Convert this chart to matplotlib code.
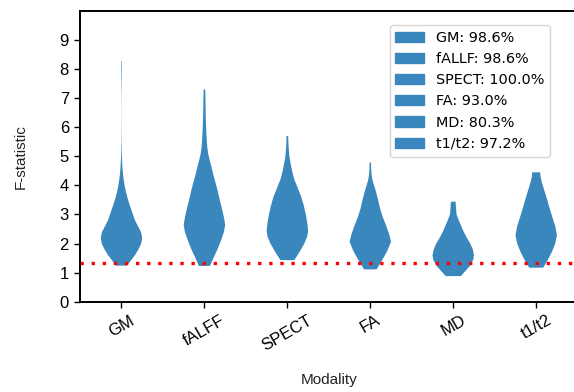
import numpy as np
import matplotlib.pyplot as plt
import matplotlib.patches as mpatches

# modalities on the x axis and the share of significant tests per modality
modalities = ["GM", "fALFF", "SPECT", "FA", "MD", "t1/t2"]
legend_names = ["GM", "fALLF", "SPECT", "FA", "MD", "t1/t2"]
pct_significant = [98.6, 98.6, 100.0, 93.0, 80.3, 97.2]

# F-statistic threshold
f_crit = 1.32

# density profiles: F values and relative density at each value
gm_f = [1.24, 1.4, 1.6, 1.8, 2.0, 2.2, 2.4, 2.6, 2.8, 3.0, 3.2, 3.4, 3.6, 3.8, 4.0,
        4.3, 4.6, 5.0, 5.5, 6.0, 6.5, 7.0, 7.5, 8.0, 8.28]
gm_d = [5.5, 9, 13.5, 17, 19.8, 20.8, 19.5, 16.5, 13.5, 11.5, 9.5, 7.5, 5.8, 4.3, 3.1,
        1.8, 1.0, 0.4, 0.15, 0.08, 0.06, 0.08, 0.2, 0.3, 0.3]

falff_f = [1.23, 1.5, 1.8, 2.1, 2.4, 2.64, 2.9, 3.2, 3.5, 3.8, 4.07, 4.35, 4.64, 4.9,
           5.1, 5.3, 5.56, 6.0, 6.36, 7.05, 7.3]
falff_d = [5.5, 9, 13, 16.5, 19.5, 20.7, 19.5, 17.5, 15.3, 13.3, 11.3, 9, 7, 5,
           3.7, 2.9, 2.3, 1.7, 1.3, 1.0, 0.8]

spect_f = [1.43, 1.7, 2.0, 2.25, 2.45, 2.7, 3.0, 3.3, 3.6, 3.9, 4.2, 4.5, 4.8, 5.0,
           5.3, 5.5, 5.7]
spect_d = [7, 12, 17, 20, 20.8, 20, 18.5, 16.5, 14, 10.5, 7, 4.7, 3, 2,
           1.3, 1.0, 0.8]

fa_f = [1.11, 1.3, 1.5, 1.75, 2.06, 2.3, 2.6, 2.92, 3.2, 3.5, 3.8, 4.0, 4.2, 4.4,
        4.6, 4.79]
fa_d = [6.3, 9.5, 13, 17, 20.7, 19, 16, 12.3, 9.8, 7.8, 5.5, 3.8, 2, 1.2,
        0.8, 0.7]

md_f = [0.88, 1.05, 1.25, 1.45, 1.6, 1.8, 2.0, 2.2, 2.4, 2.6, 2.8, 3.0, 3.2, 3.44]
md_d = [7.5, 12, 17, 20, 20.7, 19.5, 17, 13.5, 10.5, 8, 5.5, 3.3, 2.8, 2.3]

t1t2_f = [1.17, 1.4, 1.7, 2.0, 2.29, 2.6, 2.92, 3.2, 3.5, 3.75, 3.95, 4.15, 4.3, 4.45]
t1t2_d = [7, 11, 15.5, 19, 20.7, 19, 16, 13.5, 11, 8.8, 7, 5.3, 4.3, 4]

profiles = [(gm_f, gm_d), (falff_f, falff_d), (spect_f, spect_d),
            (fa_f, fa_d), (md_f, md_d), (t1t2_f, t1t2_d)]

violin_color = "#3a87bd"
tick_font = "Liberation Sans"


def make_stats(coords, vals):
    coords = np.asarray(coords, dtype=float)
    vals = np.asarray(vals, dtype=float)
    mean = float(np.sum(coords * vals) / np.sum(vals))
    return {"coords": coords, "vals": vals, "mean": mean, "median": mean,
            "min": coords.min(), "max": coords.max()}


fig = plt.figure(figsize=(5.74, 3.92), dpi=100)
ax = fig.add_axes([0.1394, 0.2304, 0.867, 0.7416])

positions = np.arange(len(modalities))
vpstats = [make_stats(c, v) for c, v in profiles]
parts = ax.violin(vpstats, positions=positions, widths=0.5,
                  showmeans=False, showextrema=False, showmedians=False)
for body in parts["bodies"]:
    body.set_facecolor(violin_color)
    body.set_edgecolor("none")
    body.set_alpha(1)

ax.axhline(f_crit, color="red", linestyle=(0, (1, 2.33)), linewidth=2.4)

ax.set_xlim(-0.5, 5.5)
ax.set_ylim(0, 10)
ax.set_yticks(range(10))
ax.set_xticks(positions)
ax.set_xticklabels(modalities, rotation=30, fontsize=12, family=tick_font)
for lab in ax.get_yticklabels():
    lab.set_fontsize(12)
    lab.set_family(tick_font)
ax.tick_params(length=4.5, width=1)
for side in ["left", "bottom", "top", "right"]:
    ax.spines[side].set_linewidth(1.4)

ax.set_xlabel("Modality", fontsize=11, family=tick_font, color="#222222", labelpad=14)
ax.set_ylabel("F-statistic", fontsize=11, family=tick_font, color="#222222", labelpad=23)

handles = [mpatches.Patch(color=violin_color, label=f"{n}: {p:.1f}%")
           for n, p in zip(legend_names, pct_significant)]
ax.legend(handles=handles, loc="upper right", bbox_to_anchor=(0.9445, 0.952),
          borderaxespad=0, fontsize=10.4)

fig.savefig("out.png")
plt.close()
